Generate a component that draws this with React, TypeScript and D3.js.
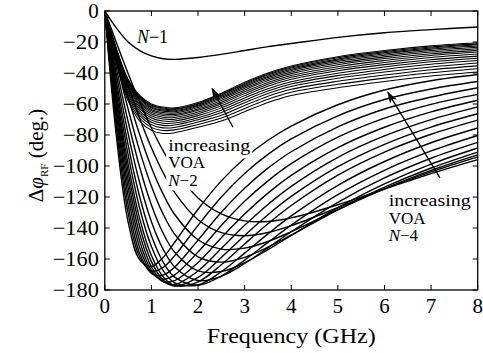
import React from "react";
import * as d3 from "d3";

const W = 483;
const H = 353;

const FREQ = [0, 0.25, 0.5, 0.75, 1, 1.25, 1.5, 2, 2.5, 3, 3.5, 4, 5, 6, 7, 8];
const X_TICKS = [0, 1, 2, 3, 4, 5, 6, 7, 8];
const Y_TICKS = [0, -20, -40, -60, -80, -100, -120, -140, -160, -180];

// N-1
const N1 = [0, -11, -20, -25.5, -29, -30.8, -31.2, -30, -28, -25.5, -23, -21, -17, -14, -12, -10.3];

// N-2 family (dense band)
const N2_0 = [0, -34, -58, -71, -77, -79, -78.5, -75, -71, -65, -59, -54.5, -49.5, -45.5, -42, -39.4];
const N2_1 = [0, -33, -56.5, -69.2, -75.1, -77.1, -76.7, -73.2, -69, -62.9, -56.9, -52.4, -47.3, -43.3, -39.9, -37.3];
const N2_2 = [0, -32.1, -55.1, -67.5, -73.4, -75.4, -75.1, -71.6, -67.2, -61, -55, -50.5, -45.3, -41.3, -37.9, -35.4];
const N2_3 = [0, -31.3, -53.7, -66, -71.8, -73.8, -73.6, -70.1, -65.5, -59.2, -53.2, -48.7, -43.4, -39.4, -36.1, -33.6];
const N2_4 = [0, -30.5, -52.5, -64.6, -70.4, -72.4, -72.3, -68.8, -64, -57.6, -51.6, -47.1, -41.7, -37.7, -34.4, -32];
const N2_5 = [0, -29.8, -51.4, -63.2, -69, -71, -71, -67.5, -62.5, -56.1, -50.1, -45.6, -40.1, -36.1, -32.8, -30.5];
const N2_6 = [0, -29.1, -50.4, -62, -67.7, -69.7, -69.8, -66.3, -61.2, -54.6, -48.6, -44.1, -38.6, -34.6, -31.4, -29.1];
const N2_7 = [0, -28.5, -49.4, -60.9, -66.5, -68.5, -68.7, -65.2, -59.9, -53.3, -47.3, -42.8, -37.2, -33.2, -30, -27.8];
const N2_8 = [0, -27.9, -48.5, -59.8, -65.4, -67.4, -67.6, -64.1, -58.8, -52.1, -46.1, -41.6, -35.9, -31.9, -28.7, -26.5];
const N2_9 = [0, -27.3, -47.6, -58.8, -64.4, -66.4, -66.7, -63.2, -57.7, -50.9, -44.9, -40.4, -34.7, -30.7, -27.6, -25.4];
const N2_10 = [0, -26.8, -46.9, -57.9, -63.5, -65.5, -65.8, -62.3, -56.7, -49.9, -43.9, -39.4, -33.6, -29.6, -26.5, -24.4];
const N2_11 = [0, -26.4, -46.2, -57.1, -62.6, -64.6, -65, -61.5, -55.8, -48.9, -42.9, -38.4, -32.6, -28.6, -25.5, -23.4];
const N2_12 = [0, -26, -45.5, -56.3, -61.9, -63.9, -64.3, -60.8, -55, -48.1, -42.1, -37.6, -31.7, -27.7, -24.6, -22.6];
const N2_13 = [0, -25.6, -45, -55.7, -61.2, -63.2, -63.6, -60.1, -54.3, -47.3, -41.3, -36.8, -30.9, -26.9, -23.9, -21.8];
const N2_14 = [0, -25.3, -44.5, -55.1, -60.6, -62.6, -63.1, -59.6, -53.6, -46.7, -40.7, -36.2, -30.2, -26.2, -23.2, -21.2];
const N2_15 = [0, -25, -44, -54.5, -60, -62, -62.5, -59, -53, -46, -40, -35.5, -29.5, -25.5, -22.5, -20.5];

// N-4 family
const N4_0 = [0, -81.2, -136, -160.5, -164.8, -159, -149.2, -127.9, -109.6, -95, -83.4, -74.2, -60.5, -51, -45, -41];
const N4_1 = [0, -75.7, -130.4, -158.9, -167.8, -165.5, -157.8, -138.3, -120, -104.8, -92.5, -82.5, -67.6, -57.1, -50.3, -45.5];
const N4_2 = [0, -71, -125.1, -156.5, -169.3, -170.4, -165.2, -147.8, -129.8, -114.3, -101.4, -90.8, -74.7, -63.2, -55.5, -49.5];
const N4_3 = [0, -66.5, -119.3, -152.7, -168.8, -173, -170.2, -155.5, -138.4, -122.8, -109.6, -98.5, -81.4, -69.1, -60.2, -53.8];
const N4_4 = [0, -62.7, -114, -148.6, -167.4, -174.5, -174, -162.3, -146.3, -131, -117.5, -106, -88.1, -75, -65.1, -57.6];
const N4_5 = [0, -59.1, -108.8, -144.1, -165, -174.6, -176.4, -167.7, -153.2, -138.3, -124.8, -113.1, -94.4, -80.6, -70.1, -61.9];
const N4_6 = [0, -55.8, -103.7, -139.2, -161.7, -173.5, -177.4, -171.9, -159, -144.8, -131.4, -119.6, -100.4, -86, -74.9, -66.3];
const N4_7 = [0, -52.7, -98.8, -134.1, -157.8, -171.4, -177.2, -174.8, -163.7, -150.3, -137.3, -125.5, -105.9, -91, -79.5, -70.4];
const N4_8 = [0, -49, -92.7, -127.4, -152, -167.4, -175.4, -176.8, -168.2, -156.2, -143.8, -132.2, -112.5, -97.1, -85, -75.5];
const N4_9 = [0, -45.3, -86.3, -120, -145, -161.9, -171.7, -176.9, -171, -160.7, -149.3, -138.1, -118.5, -102.8, -90.3, -80.3];
const N4_10 = [0, -41.2, -79.1, -111, -135.9, -153.6, -165.1, -173.9, -171.1, -162.9, -152.8, -142.4, -123.4, -107.7, -95, -84.8];
const N4_11 = [0, -36.9, -71.3, -101, -125.1, -143.2, -155.7, -167.7, -168.1, -162.4, -154, -144.8, -126.9, -111.5, -98.8, -88.4];
const N4_12 = [0, -32.6, -63.2, -90.4, -113, -130.9, -144, -158.6, -162, -158.9, -152.4, -144.6, -128.3, -113.7, -101.3, -91];
const N4_13 = [0, -28.5, -55.5, -79.9, -100.9, -118, -131.3, -147.6, -153.6, -153, -148.7, -142.4, -128.2, -114.7, -102.8, -92.8];
const N4_14 = [0, -24.4, -47.8, -69.3, -88.2, -104.2, -117.2, -134.7, -143, -145, -142.9, -138.5, -126.9, -114.8, -103.8, -94.1];
const N4_15 = [0, -20.5, -40.3, -58.8, -75.5, -90.1, -102.5, -120.6, -130.9, -135.4, -135.8, -133.5, -125, -114.9, -104.9, -95.9];

const N2_SERIES = [N2_0, N2_1, N2_2, N2_3, N2_4, N2_5, N2_6, N2_7, N2_8, N2_9, N2_10, N2_11, N2_12, N2_13, N2_14, N2_15];
const N4_SERIES = [N4_0, N4_1, N4_2, N4_3, N4_4, N4_5, N4_6, N4_7, N4_8, N4_9, N4_10, N4_11, N4_12, N4_13, N4_14, N4_15];

// annotations in data units
const ARROW_N2 = { from: [2.75, -75], to: [2.3, -50] };
const ARROW_N4 = { from: [7.19, -107.7], to: [6.07, -52.3] };
const LABEL_N1 = { x: 0.69, y: -20.8 };
const LABEL_N2 = { x: 1.36, y: [-90, -101.6, -113.2] };
const LABEL_N4 = { x: 6.09, y: [-125.5, -137.1, -148.7] };

const FONT = "'Liberation Serif', 'Times New Roman', serif";

export default function App() {
  const left = 104.8, right = 477.7, top = 11, bottom = 290;
  const x = d3.scaleLinear().domain([0, 8]).range([left, right]);
  const y = d3.scaleLinear().domain([0, -180]).range([top, bottom]);
  const line = d3
    .line<number>()
    .x((_, i) => x(FREQ[i]))
    .y((d) => y(d))
    .curve(d3.curveCatmullRom.alpha(0.5));
  const fmt = d3.format("d");
  const tick = 5;

  const arrow = (a: { from: number[]; to: number[] }, key: string) => (
    <line
      key={key}
      x1={x(a.from[0])}
      y1={y(a.from[1])}
      x2={x(a.to[0])}
      y2={y(a.to[1])}
      stroke="#000"
      strokeWidth={1.3}
      markerEnd="url(#ah)"
    />
  );

  const annot = (lx: number, ys: number[], tag: string) => (
    <g fontSize={17} fill="#000">
      <text x={x(lx)} y={y(ys[0])} textLength={82} lengthAdjust="spacingAndGlyphs">increasing</text>
      <text x={x(lx)} y={y(ys[1])} textLength={37} lengthAdjust="spacingAndGlyphs">VOA</text>
      <text x={x(lx)} y={y(ys[2])}>
        <tspan fontStyle="italic">N</tspan>−{tag}
      </text>
    </g>
  );

  const n2x = x(LABEL_N2.x);
  const n2y = LABEL_N2.y.map((v) => y(v));

  return (
    <svg
      width={W}
      height={H}
      style={{ position: "absolute", left: 0, top: 0, background: "#fff", fontFamily: FONT }}
    >
      <defs>
        <clipPath id="plot">
          <rect x={left} y={top} width={right - left} height={bottom - top} />
        </clipPath>
        <marker id="ah" viewBox="0 0 12 8" refX="11" refY="4" markerWidth="12" markerHeight="8" markerUnits="userSpaceOnUse" orient="auto">
          <path d="M0,0 L12,4 L0,8 L3,4 Z" fill="#000" />
        </marker>
      </defs>
      <rect x={0} y={0} width={W} height={H} fill="#fff" />

      <g clipPath="url(#plot)" fill="none" stroke="#000">
        {N2_SERIES.map((s, i) => (
          <path key={"n2" + i} d={line(s) || ""} strokeWidth={1.05} />
        ))}
        {N4_SERIES.map((s, i) => (
          <path key={"n4" + i} d={line(s) || ""} strokeWidth={1.4} />
        ))}
        <path d={line(N1) || ""} strokeWidth={1.4} />
      </g>

      {/* N-2 annotation with white background */}
      <rect x={n2x - 2} y={n2y[0] - 12} width={86} height={n2y[1] - n2y[0] + 2} fill="#fff" />
      <rect x={n2x - 2} y={n2y[1] - 14} width={41} height={n2y[2] - n2y[1] + 2} fill="#fff" />
      <rect x={n2x - 2} y={n2y[2] - 14} width={35} height={18} fill="#fff" />
      {annot(LABEL_N2.x, LABEL_N2.y, "2")}
      {annot(LABEL_N4.x, LABEL_N4.y, "4")}
      <text x={x(LABEL_N1.x)} y={y(LABEL_N1.y)} fontSize={18} fill="#000">
        <tspan fontStyle="italic">N</tspan>−1
      </text>

      {arrow(ARROW_N2, "a2")}
      {arrow(ARROW_N4, "a4")}

      {/* frame */}
      <rect x={left} y={top} width={right - left} height={bottom - top} fill="none" stroke="#000" strokeWidth={1.3} />

      {/* ticks */}
      <g stroke="#000" strokeWidth={1}>
        {X_TICKS.map((t) => (
          <g key={"xt" + t}>
            <line x1={x(t)} x2={x(t)} y1={bottom} y2={bottom - tick} />
            <line x1={x(t)} x2={x(t)} y1={top} y2={top + tick} />
          </g>
        ))}
        {Y_TICKS.map((t) => (
          <g key={"yt" + t}>
            <line x1={left} x2={left + tick} y1={y(t)} y2={y(t)} />
            <line x1={right} x2={right - tick} y1={y(t)} y2={y(t)} />
          </g>
        ))}
      </g>

      <g fontSize={21} fill="#000">
        {X_TICKS.map((t) => (
          <text key={"xl" + t} x={x(t)} y={313} textAnchor="middle">
            {fmt(t)}
          </text>
        ))}
        {Y_TICKS.map((t) => (
          <text key={"yl" + t} x={left - 6} y={y(t) + 7} textAnchor="end" textLength={t === 0 ? undefined : t <= -100 ? 46 : 36} lengthAdjust="spacingAndGlyphs">
            {fmt(t)}
          </text>
        ))}
      </g>

      <text x={(left + right) / 2} y={343} textAnchor="middle" fontSize={21} fill="#000" textLength={169} lengthAdjust="spacingAndGlyphs">
        Frequency (GHz)
      </text>

      <text transform={`translate(43,${(top + bottom) / 2 + 5}) rotate(-90)`} textAnchor="middle" fontSize={21} fill="#000">
        <tspan>Δ</tspan>
        <tspan fontStyle="italic">φ</tspan>
        <tspan fontSize={11} dy={5}>RF</tspan>
        <tspan dy={-5}> (deg.)</tspan>
      </text>
    </svg>
  );
}
